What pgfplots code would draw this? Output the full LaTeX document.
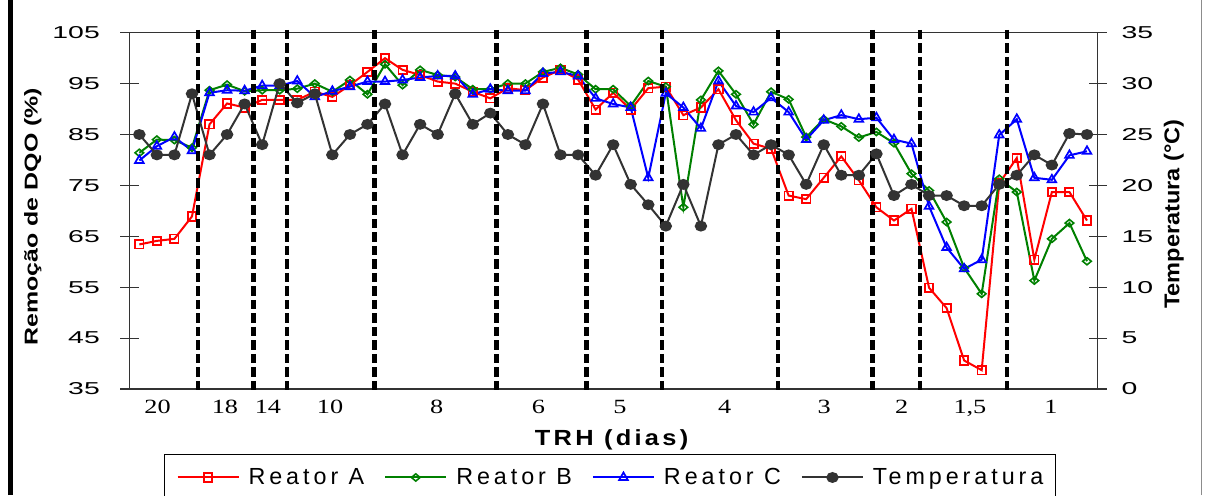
\documentclass[border=0pt]{standalone}
\usepackage{pgfplots}
\pgfplotsset{compat=1.18}
\usepackage{fontspec}
\setmainfont{Liberation Sans}
\newfontfamily\numfont[FakeStretch=1.65]{Liberation Sans}
\newfontfamily\catfont[FakeStretch=1.3]{Liberation Serif}
\newfontfamily\legfont[LetterSpace=17]{Liberation Sans}
\newfontfamily\trhfont[FakeStretch=1.16,LetterSpace=15]{Liberation Sans}
\newfontfamily\lyfont[FakeStretch=1.34]{Liberation Sans}
\newfontfamily\ryfont[FakeStretch=1.1]{Liberation Sans}

\definecolor{ra}{RGB}{255,0,0}
\definecolor{rb}{RGB}{0,128,0}
\definecolor{rc}{RGB}{0,0,255}
\definecolor{tp}{RGB}{51,51,51}
\definecolor{axgray}{RGB}{140,140,140}

% i = ordem da amostra; A, B, C = remocao de DQO (%); T = temperatura (C)
\pgfplotstableread{
i A B C T
0 63.4 81.4 79.9 25.0
1 64.1 84.0 82.7 23.0
2 64.5 83.9 84.5 23.0
3 68.9 82.4 81.8 29.0
4 87.0 93.7 93.2 23.0
5 91.1 94.8 93.7 25.0
6 90.3 93.5 93.6 28.0
7 91.8 93.7 94.6 24.0
8 91.8 93.7 94.6 30.0
9 91.8 94.0 95.5 28.1
10 93.4 95.0 92.4 29.0
11 92.4 93.4 93.5 23.0
12 94.7 95.7 94.4 25.0
13 97.3 92.9 95.4 26.0
14 100.0 98.8 95.4 28.0
15 97.7 94.7 95.7 23.0
16 96.7 97.7 96.2 26.0
17 95.4 96.7 96.5 25.0
18 95.0 96.3 96.5 29.0
19 93.4 93.9 92.9 26.0
20 92.1 93.9 93.9 27.1
21 94.1 95.0 93.6 25.0
22 93.7 95.0 93.6 24.0
23 96.2 97.3 97.0 28.0
24 97.7 98.1 97.3 23.0
25 95.8 96.8 96.5 23.0
26 89.9 93.9 92.1 21.0
27 93.2 93.9 91.0 24.0
28 89.9 90.6 90.3 20.1
29 94.1 95.5 76.5 18.1
30 94.4 94.4 93.1 16.0
31 88.8 70.7 90.3 20.1
32 90.3 91.8 86.2 16.0
33 93.9 97.5 95.5 24.0
34 87.8 92.9 90.6 25.0
35 83.2 87.0 89.4 23.0
36 82.2 93.4 92.2 24.0
37 73.0 91.9 89.4 23.0
38 72.3 84.5 84.0 20.1
39 76.5 88.0 87.8 24.0
40 80.7 86.6 88.8 21.0
41 76.0 84.4 88.0 21.0
42 70.7 85.5 88.3 23.1
43 68.1 83.3 84.0 19.0
44 70.4 77.3 83.2 20.1
45 54.9 74.0 70.9 19.0
46 50.9 67.8 62.8 19.0
47 40.6 58.8 58.6 18.0
48 38.7 53.7 60.4 18.0
49 75.4 76.3 84.9 20.1
50 80.4 73.7 88.0 21.0
51 60.4 56.3 76.5 23.0
52 73.7 64.5 76.1 22.0
53 73.7 67.6 80.9 25.1
54 68.1 60.1 81.7 25.0
}\dqo

\pgfplotsset{
  base/.style={
    at={(0,0)}, anchor=south west,
    scale only axis, width=968pt, height=356.3pt,
    xmin=-0.56, xmax=54.6,
    major tick length=18pt, tick align=center,
    tick style={draw=black!80, line width=1.1pt},
    /pgf/number format/assume math mode=true,
  },
  tstyle/.style={tp, line width=2pt, mark=*, mark size=5.2pt,
    mark options={solid, fill=tp, yscale=0.85}},
}

\begin{document}
\begin{tikzpicture}[x=1pt,y=1pt]
\useasboundingbox (-129.5,-106) rectangle (1076.5,389);
\draw[line width=4.4pt] (-119,-106) -- (-119,389);
\draw[axgray, line width=1.5pt] (1072,-106) -- (1072,389);

\begin{axis}[
  base,
  ymin=35, ymax=105,
  ytick={35,45,...,105},
  ytick pos=left,
  xtick={1.04,4.88,7.33,10.87,16.95,22.74,27.39,33.36,39.03,43.44,47.33,51.94},
  xticklabels={20,18,14,10,8,6,5,4,3,2,{1,5},1},
  xtick style={draw=none},
  x axis line style={draw=axgray, line width=1.3pt},
  y axis line style={draw=black!80, line width=1.3pt},
  yticklabel style={anchor=east, inner sep=0pt, xshift=-20.5pt,
    font=\numfont\fontsize{17.2}{18}\selectfont},
  xticklabel style={anchor=north, inner sep=0pt, yshift=-2pt,
    font=\catfont\fontsize{20.2}{22}\selectfont},
  xlabel={TRH (dias)},
  every axis x label/.style={at={(axis description cs:0.498,-0.159)}, anchor=base,
    font=\trhfont\bfseries\fontsize{21.9}{24}\selectfont},
  ylabel={Remoção de DQO (\%)},
  every axis y label/.style={at={(axis description cs:-0.0948,0.484)}, rotate=90,
    anchor=base, font=\lyfont\bfseries\fontsize{18.6}{20}\selectfont},
  legend columns=4,
  legend cell align=left,
  legend image code/.code={\draw[mark repeat=2,mark phase=2,#1]
    plot coordinates {(0pt,0pt) (30.5pt,0pt) (61pt,0pt)};},
  legend style={at={(axis description cs:0.0356,-0.1824)}, anchor=north west,
    draw=black, line width=1.2pt, inner xsep=12pt, inner ysep=14pt,
    font=\legfont\fontsize{23.3}{25}\selectfont,
    nodes={inner sep=0pt},
    /tikz/every odd column/.append style={column sep=9pt},
    /tikz/every even column/.append style={column sep=20pt}},
]
\addplot[ra, line width=2pt, mark=square, mark size=4.2pt,
  mark options={solid, fill=white, line width=1.7pt}] table[x=i,y=A]{\dqo};
\addlegendentry{Reator A}
\addplot[rb, line width=2pt, mark=diamond, mark size=3.6pt,
  mark options={solid, fill=white, line width=1.6pt, xscale=1.6}] table[x=i,y=B]{\dqo};
\addlegendentry{Reator B}
\addplot[rc, line width=2pt, mark=triangle, mark size=5pt,
  mark options={solid, fill=white, line width=1.7pt}] table[x=i,y=C]{\dqo};
\addlegendentry{Reator C}
\addlegendimage{tstyle}
\addlegendentry{Temperatura}
\end{axis}

\begin{axis}[
  base,
  ymin=0, ymax=35,
  ytick={0,5,...,35},
  axis x line=none,
  axis y line*=right,
  y axis line style={draw=black!80, line width=1.3pt},
  yticklabel style={anchor=west, inner sep=0pt, xshift=15pt,
    font=\numfont\fontsize{17.2}{18}\selectfont},
  ylabel={Temperatura (°C)},
  every axis y label/.style={at={(axis description cs:1.0845,0.491)}, rotate=90,
    anchor=base, font=\ryfont\bfseries\fontsize{21.4}{23}\selectfont},
  clip=false,
]
\addplot[tstyle] table[x=i,y=T]{\dqo};
\pgfplotsinvokeforeach{3.36,6.50,8.43,13.39,20.36,25.49,29.77,36.38,41.77,44.48,49.43}{
  \draw[black, line width=4.4pt, dash pattern=on 9.5pt off 4pt]
    (axis cs:#1,35.27) -- (axis cs:#1,-0.36);
}
\end{axis}
\end{tikzpicture}
\end{document}
